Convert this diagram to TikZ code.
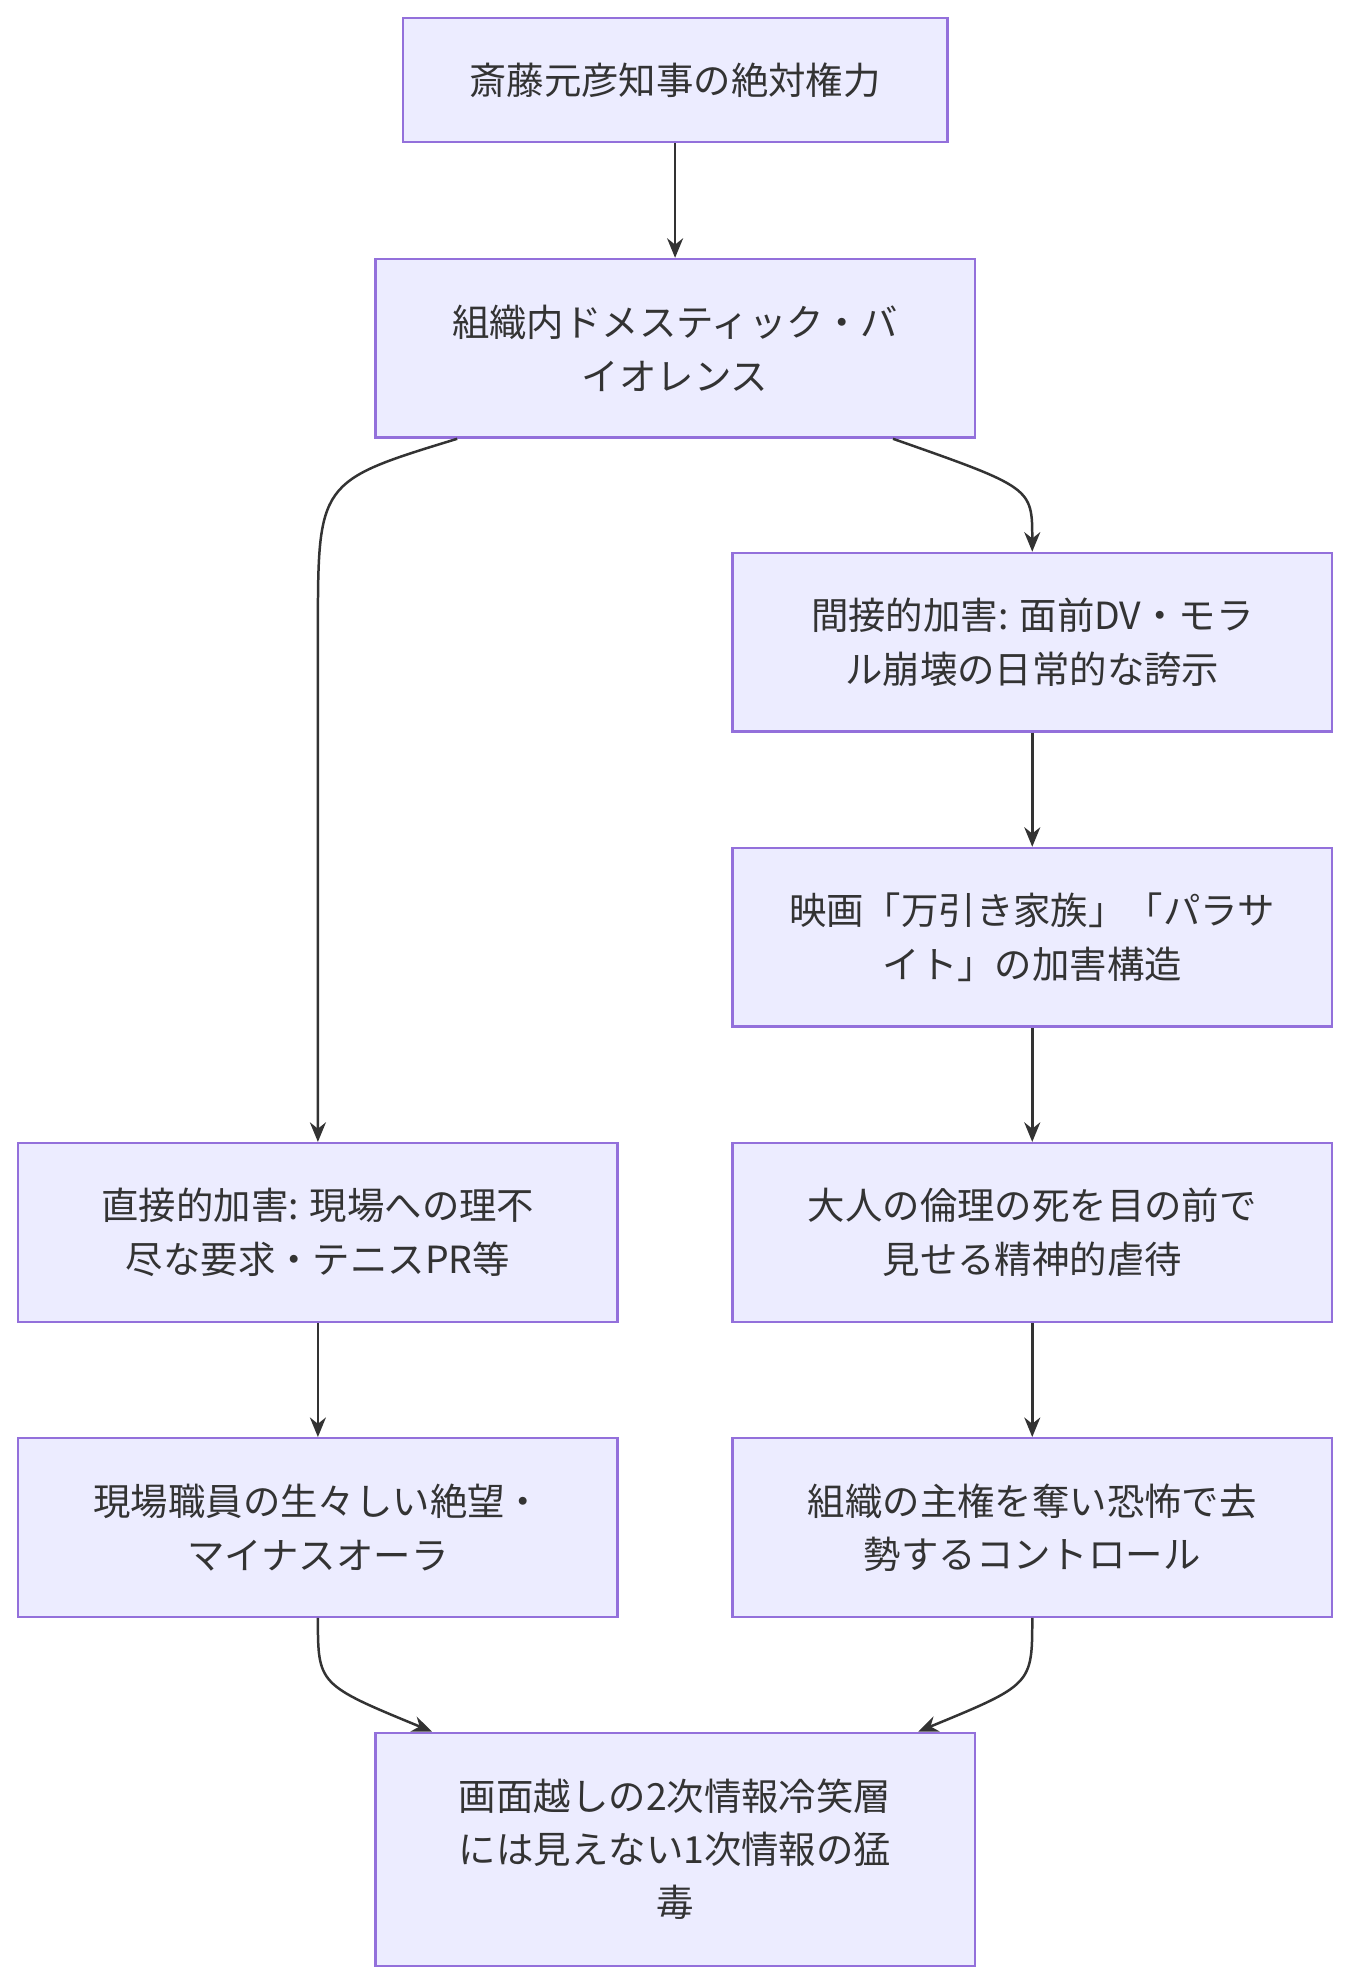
\documentclass[tikz,border=0pt]{standalone}
\usepackage{fontspec}
\setmainfont{Noto Sans CJK JP}
\usetikzlibrary{arrows.meta,calc}
\definecolor{boxfill}{HTML}{ECECFF}
\definecolor{boxline}{HTML}{9370DB}
\definecolor{linkcol}{HTML}{333333}
\begin{document}
\begin{tikzpicture}[
        x=0.025cm, y=-0.025cm,
        stage/.style={draw=boxline, fill=boxfill, line width=1.3pt, align=center,
            minimum width=11.825cm, minimum height=3.525cm, text=linkcol,
            font=\fontsize{21}{30}\selectfont},
        arrow/.style={-{Stealth[length=11pt,width=9pt]}, draw=linkcol, line width=1.4pt}
    ]
    \useasboundingbox (0,0) rectangle (1066,1568);

    % Top of the chain
    \node[stage, minimum width=10.75cm, minimum height=2.45cm] (power) at (533,63) {斎藤元彦知事の絶対権力};
    \node[stage] (dv) at (533,275) {組織内ドメスティック・バ\\イオレンス};

    % Right branch
    \node[stage] (indirect) at (815,507) {間接的加害: 面前DV・モラ\\ル崩壊の日常的な誇示};
    \node[stage] (film) at (815,740) {映画「万引き家族」「パラサ\\イト」の加害構造};
    \node[stage] (ethics) at (815,973) {大人の倫理の死を目の前で\\見せる精神的虐待};
    \node[stage] (control) at (815,1206) {組織の主権を奪い恐怖で去\\勢するコントロール};

    % Left branch
    \node[stage] (direct) at (251,973) {直接的加害: 現場への理不\\尽な要求・テニスPR等};
    \node[stage] (staff) at (251,1206) {現場職員の生々しい絶望・\\マイナスオーラ};

    % Bottom
    \node[stage, minimum height=4.6cm] (poison) at (533,1460) {画面越しの2次情報冷笑層\\には見えない1次情報の猛\\毒};

    % Arrows
    \draw[arrow] (power) -- (dv);
    \draw[arrow] ([xshift=-4.3cm]dv.south) .. controls (251,380) .. (251,500) -- (direct.north);
    \draw[arrow] ([xshift=4.3cm]dv.south) .. controls (815,385) .. (indirect.north);
    \draw[arrow] (indirect) -- (film);
    \draw[arrow] (film) -- (ethics);
    \draw[arrow] (ethics) -- (control);
    \draw[arrow] (direct) -- (staff);
    \draw[arrow] (staff.south) .. controls (251,1330) .. ([xshift=-4.8cm]poison.north);
    \draw[arrow] (control.south) .. controls (815,1330) .. ([xshift=4.8cm]poison.north);
\end{tikzpicture}
\end{document}
